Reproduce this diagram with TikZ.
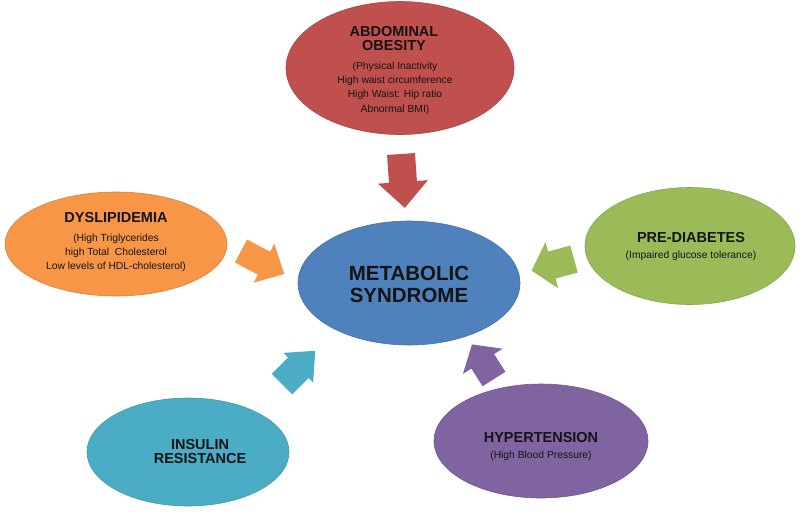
\documentclass[tikz,border=0pt]{standalone}
\usepackage{fontspec}
\setmainfont{Liberation Sans}
\usetikzlibrary{shapes.geometric}
\definecolor{cRed}{HTML}{C0504D}
\definecolor{cOrange}{HTML}{F79646}
\definecolor{cGreen}{HTML}{9BBB59}
\definecolor{cCyan}{HTML}{4BACC6}
\definecolor{cPurple}{HTML}{8064A2}
\definecolor{cBlue}{HTML}{4F81BD}
\definecolor{cText}{HTML}{141414}
\newcommand\blkarrow[7]{% color, tail, angle, length, shaft half, head half, head length
  \fill[#1, shift={(#2)}, rotate=#3]
    (0,#5) -- ({#4-#7},#5) -- ({#4-#7},#6) -- (#4,0) -- ({#4-#7},-#6) -- ({#4-#7},-#5) -- (0,-#5) -- cycle;}
\tikzset{
  blob/.style={ellipse, inner sep=0pt, fill=#1, draw=#1!88!black, line width=0.6pt},
  ttl/.style={text=cText, align=center, inner sep=0pt, font=\fontsize{14.5}{14}\selectfont\bfseries},
  sub/.style={text=cText, align=center, inner sep=0pt, font=\fontsize{10.3}{14.3}\selectfont},
  big/.style={text=cText, align=center, inner sep=0pt, font=\fontsize{20.5}{22}\selectfont\bfseries},
}
\begin{document}
\begin{tikzpicture}[x=1pt, y=-1pt]
\useasboundingbox (0,0) rectangle (800,515);
\fill[white] (0,0) rectangle (800,515);
% ellipses
\node[blob=cRed, minimum width=228, minimum height=133] (abd) at (400,68) {};
\node[blob=cOrange, minimum width=222, minimum height=104] (dys) at (116,244) {};
\node[blob=cGreen, minimum width=210, minimum height=117] (pre) at (690,246) {};
\node[blob=cCyan, minimum width=202, minimum height=108] (ins) at (188,452) {};
\node[blob=cPurple, minimum width=214, minimum height=114] (hyp) at (541,441) {};
\node[blob=cBlue, minimum width=222, minimum height=124] (met) at (409,283) {};
% texts
\node[big] (metT) at (409,284) {METABOLIC\\SYNDROME};
\node[ttl] (abdT) at (394,39) {ABDOMINAL\\OBESITY};
\node[sub] (abdS) at (395,88) {(Physical Inactivity\\High waist circumference\\High Waist: Hip ratio\\Abnormal BMI)};
\node[ttl] (dysT) at (116,218) {DYSLIPIDEMIA};
\node[sub] (dysS) at (116,253) {(High Triglycerides\\high Total\ \ Cholesterol\\Low levels of HDL-cholesterol)};
\node[ttl] (preT) at (691,238) {PRE-DIABETES};
\node[sub] (preS) at (691,256) {(Impaired glucose tolerance)};
\node[ttl] (insT) at (200,451) {INSULIN\\RESISTANCE};
\node[ttl] (hypT) at (541,437) {HYPERTENSION};
\node[sub] (hypS) at (541,456) {(High Blood Pressure)};
% block arrows
\blkarrow{cRed}{401,154}{-86}{54}{14}{25}{26}
\blkarrow{cOrange}{241,251}{-28}{49}{13}{22}{23}
\blkarrow{cGreen}{574,259}{-164.6}{44}{14}{24}{21}
\blkarrow{cCyan}{282,384}{45}{47}{14.5}{21}{24}
\blkarrow{cPurple}{494,379}{122.5}{41}{13.5}{23.5}{20}
\end{tikzpicture}
\end{document}
